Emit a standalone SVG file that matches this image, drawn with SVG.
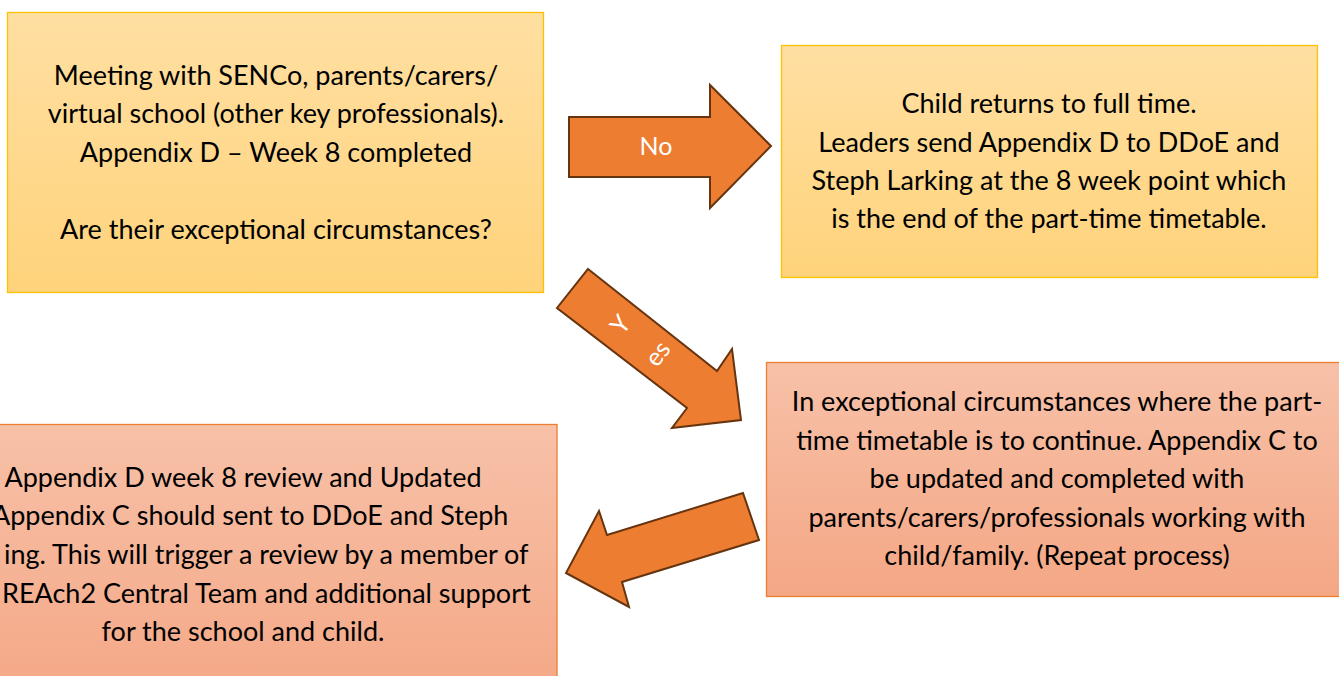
<svg xmlns="http://www.w3.org/2000/svg" width="1339" height="676" viewBox="0 0 1339 676">
<defs>
<linearGradient id="gy" x1="0" y1="0" x2="0" y2="1">
<stop offset="0" stop-color="#FFDFA2"/>
<stop offset="1" stop-color="#FFD37B"/>
</linearGradient>
<linearGradient id="gp" x1="0" y1="0" x2="0" y2="1">
<stop offset="0" stop-color="#F7C1A8"/>
<stop offset="1" stop-color="#F4A785"/>
</linearGradient>
<style>
.yb{fill:url(#gy);stroke:#FFC000;stroke-width:1.3}
.pb{fill:url(#gp);stroke:#ED7D31;stroke-width:1.3}
.t{font-family:Lato,"Liberation Sans",sans-serif;font-size:27px;fill:#000;text-anchor:middle}
.arr{fill:#ED7D31;stroke:#66340F;stroke-width:2;stroke-linejoin:miter}
.w{font-family:Lato,"Liberation Sans",sans-serif;font-size:25px;fill:#fff;text-anchor:middle}
</style>
</defs>
<rect width="1339" height="676" fill="#fff"/>
<g id="node-meeting">
<rect class="yb" x="7.5" y="12.5" width="536" height="280"/>
<text class="t" x="276" y="85">Meeting with SENCo, parents/carers/</text>
<text class="t" x="276" y="123">virtual school (other key professionals).</text>
<text class="t" x="276" y="162">Appendix D – Week 8 completed</text>
<text class="t" x="276" y="239">Are their exceptional circumstances?</text>
</g>
<g id="node-fulltime">
<rect class="yb" x="781.5" y="45.5" width="536" height="232"/>
<text class="t" x="1049" y="113">Child returns to full time.</text>
<text class="t" x="1049" y="152">Leaders send Appendix D to DDoE and</text>
<text class="t" x="1049" y="190">Steph Larking at the 8 week point which</text>
<text class="t" x="1049" y="228">is the end of the part-time timetable.</text>
</g>
<g id="node-exceptional">
<rect class="pb" x="766.5" y="362.5" width="590" height="234"/>
<text class="t" x="1057" y="411">In exceptional circumstances where the part-</text>
<text class="t" x="1057" y="450">time timetable is to continue. Appendix C to</text>
<text class="t" x="1057" y="488">be updated and completed with</text>
<text class="t" x="1057" y="527">parents/carers/professionals working with</text>
<text class="t" x="1057" y="565">child/family. (Repeat process)</text>
</g>
<g id="node-review">
<rect class="pb" x="-20" y="424.5" width="577" height="280"/>
<text class="t" x="243" y="487">Appendix D week 8 review and Updated</text>
<text class="t" x="-8" y="525" style="text-anchor:start">Appendix C should sent to DDoE and Steph</text>
<text class="t" x="4" y="564" style="text-anchor:start">ing. This will trigger a review by a member of</text>
<text class="t" x="2" y="603" style="text-anchor:start">REAch2 Central Team and additional support</text>
<text class="t" x="243" y="641">for the school and child.</text>
</g>
<g id="connectors">
<g id="arrow-no">
<polygon class="arr" points="569,117 710,117 710,85 771,146 710,208 710,177 569,177"/>
<text class="w" x="656" y="155">No</text>
</g>
<g id="arrow-yes">
<polygon class="arr" points="588,269 717,371 732,349 741,420 672,428 687,408 557,308"/>
<g transform="translate(621,325) rotate(-52)">
<text class="w" x="0" y="8">Y</text>
<text class="w" x="0" y="55">es</text>
</g>
</g>
<g id="arrow-back">
<polygon class="arr" points="743,493 759,540 622,582 629,607 566,573 599,511 607,535"/>
</g>
</g>
</svg>
